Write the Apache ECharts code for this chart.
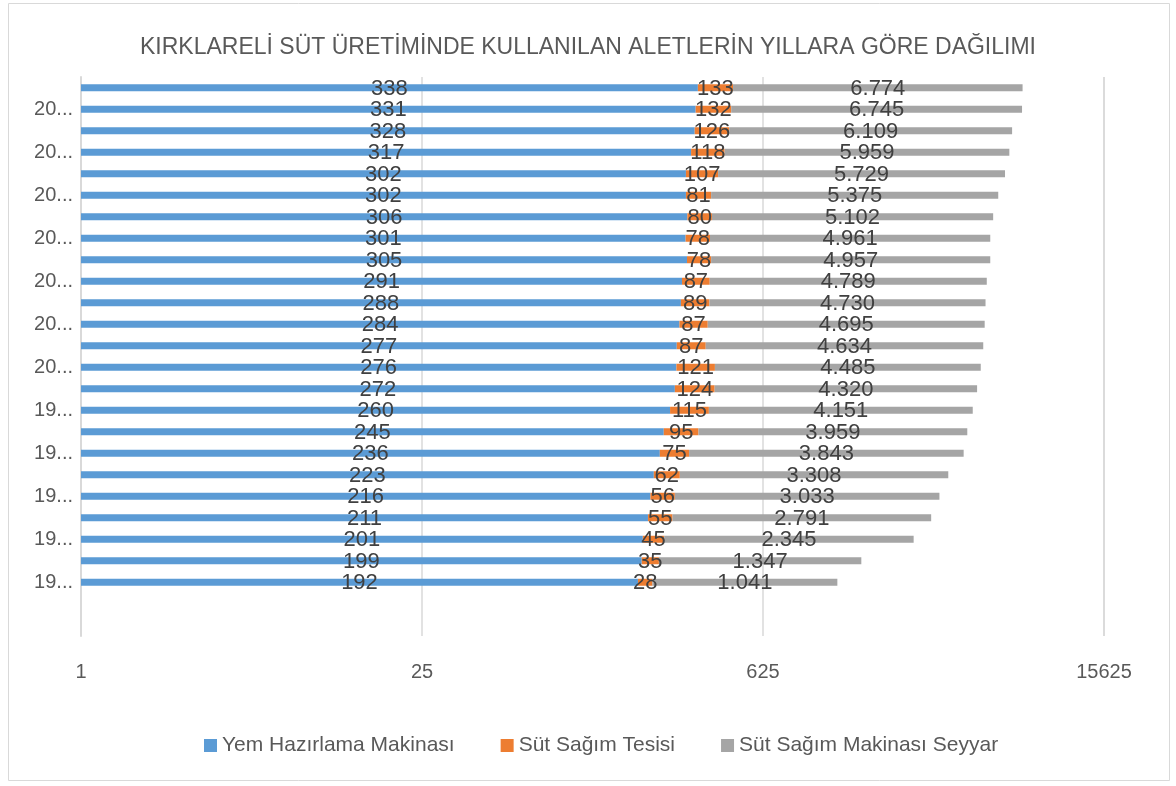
<!DOCTYPE html>
<html>
<head>
<meta charset="utf-8">
<script src="https://cdn.jsdelivr.net/npm/echarts@6/dist/echarts.min.js"></script>
<style>
  html, body { margin: 0; padding: 0; background: #fff; }
  #chart { width: 1176px; height: 786px; }
</style>
</head>
<body>
<div id="chart"></div>
<script>
// years, bottom to top (two empty rows under the data, as in the sheet)
var years = ['', '', '1991', '1992', '1993', '1994', '1995', '1996', '1997', '1998', '1999', '2000',
    '2001', '2002', '2003', '2004', '2005', '2006', '2007', '2008', '2009', '2010',
    '2011', '2012', '2013', '2014'];

var yemHazirlama = [null, null, 192, 199, 201, 211, 216, 223, 236, 245, 260, 272,
    276, 277, 284, 288, 291, 305, 301, 306, 302, 302, 317, 328, 331, 338];

var sutSagimTesisi = [null, null, 28, 35, 45, 55, 56, 62, 75, 95, 115, 124,
    121, 87, 87, 89, 87, 78, 78, 80, 81, 107, 118, 126, 132, 133];

var sutSagimSeyyar = [null, null, 1041, 1347, 2345, 2791, 3033, 3308, 3843, 3959, 4151, 4320,
    4485, 4634, 4695, 4730, 4789, 4957, 4961, 5102, 5375, 5729, 5959, 6109, 6745, 6774];

var seriesNames = ['Yem Hazırlama Makinası', 'Süt Sağım Tesisi', 'Süt Sağım Makinası Seyyar'];
var colors = ['#5b9bd5', '#ed7d31', '#a5a5a5'];

function formatNumber(v) {
    // Turkish style thousands separator
    return String(v).replace(/\B(?=(\d{3})+(?!\d))/g, '.');
}

var chart = echarts.init(document.getElementById('chart'));

function makeSeries(name, data, color) {
    return {
        name: name,
        type: 'bar',
        stack: 'total',
        data: data,
        barWidth: 7,
        itemStyle: { color: color },
        label: {
            show: true,
            position: 'inside',
            offset: [0, 1],
            color: '#404040',
            fontSize: 22,
            formatter: function (p) { return p.value == null ? '' : formatNumber(p.value); }
        }
    };
}

var option = {
    animation: false,
    textStyle: { fontFamily: 'Liberation Sans' },
    title: {
        text: 'KIRKLARELİ SÜT ÜRETİMİNDE KULLANILAN ALETLERİN YILLARA GÖRE DAĞILIMI',
        left: 'center',
        top: 31,
        textStyle: {
            fontFamily: 'Liberation Sans',
            fontSize: 23,
            fontWeight: 'normal',
            color: '#595959'
        }
    },
    legend: {
        bottom: 25,
        left: 199,
        itemWidth: 13,
        itemHeight: 13,
        itemGap: 46,
        icon: 'rect',
        textStyle: { fontSize: 21, color: '#595959' },
        data: seriesNames
    },
    grid: {
        left: 81,
        right: 72,
        top: 77,
        bottom: 150
    },
    xAxis: {
        type: 'log',
        logBase: 25,
        min: 1,
        max: 15625,
        axisLine: { show: false },
        axisTick: { show: false },
        axisLabel: {
            fontSize: 20,
            color: '#595959',
            margin: 26,
            formatter: function (v) { return String(Math.round(v)); }
        },
        splitLine: { show: true, lineStyle: { color: '#d9d9d9', width: 1.5 } }
    },
    yAxis: {
        type: 'category',
        data: years,
        axisLine: { show: true, lineStyle: { color: '#d9d9d9', width: 2 } },
        axisTick: { show: false },
        axisLabel: {
            interval: 1,
            fontSize: 20,
            color: '#595959',
            margin: 8,
            formatter: function (v) { return v ? v.slice(0, 2) + '...' : ''; }
        }
    },
    graphic: [{
        type: 'rect',
        shape: { x: 8.5, y: 3.5, width: 1161, height: 777 },
        style: { fill: 'none', stroke: '#d9d9d9', lineWidth: 1 },
        silent: true
    }],
    series: [
        makeSeries(seriesNames[0], yemHazirlama, colors[0]),
        makeSeries(seriesNames[1], sutSagimTesisi, colors[1]),
        makeSeries(seriesNames[2], sutSagimSeyyar, colors[2])
    ]
};

chart.setOption(option);

window.onresize = function () {
    chart.resize();
};
</script>
</body>
</html>
